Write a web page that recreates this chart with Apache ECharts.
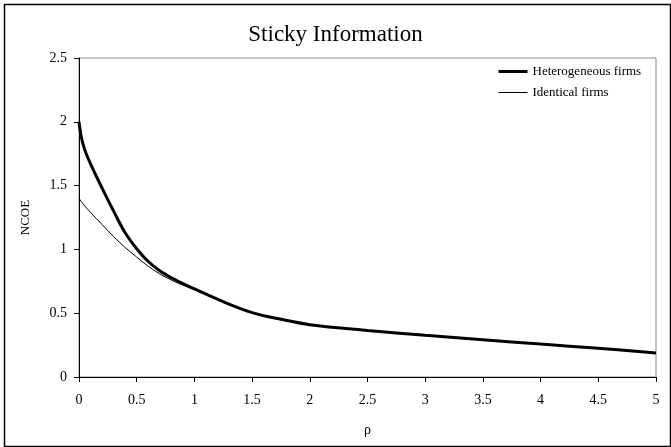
<!DOCTYPE html>
<html>
<head>
<meta charset="utf-8">
<script src="https://cdn.jsdelivr.net/npm/echarts@6/dist/echarts.min.js"></script>
<style>html,body{margin:0;padding:0;background:#fff}#c{width:671px;height:447px}</style>
</head>
<body>
<div id="c"></div>
<script>
// Data
var rhoHet = [0, 0.02, 0.05, 0.1, 0.2, 0.3, 0.4, 0.5, 0.6, 0.7, 0.8, 0.9, 1.0, 1.25, 1.5, 1.75, 2.0, 2.5, 3.0, 3.5, 4.0, 4.5, 5.0];
var hetero = [2.00, 1.88, 1.78, 1.67, 1.48, 1.30, 1.13, 1.005, 0.905, 0.833, 0.778, 0.732, 0.69, 0.59, 0.505, 0.452, 0.41, 0.365, 0.327, 0.292, 0.258, 0.225, 0.188];
var rhoIdent = [0, 0.05, 0.1, 0.2, 0.3, 0.4, 0.5, 0.6, 0.7, 0.8, 0.9, 1.0, 1.25, 1.5, 1.75, 2.0, 2.5, 3.0, 3.5, 4.0, 4.5, 5.0];
var identical = [1.40, 1.34, 1.29, 1.195, 1.10, 1.015, 0.94, 0.868, 0.808, 0.760, 0.720, 0.685, 0.588, 0.503, 0.451, 0.409, 0.364, 0.326, 0.291, 0.257, 0.224, 0.187];
var seriesNames = ['Heterogeneous firms', 'Identical firms'];

function pairs(xs, ys) { return xs.map(function (x, i) { return [x, ys[i]]; }); }

var FONT = "'Liberation Serif','Times New Roman',serif";
var chart = echarts.init(document.getElementById('c'), null, { renderer: 'canvas' });
chart.setOption({
  backgroundColor: '#fff',
  animation: false,
  title: {
    text: 'Sticky Information',
    left: 'center', top: 18,
    textStyle: { fontFamily: FONT, fontSize: 23, fontWeight: 'normal', color: '#000' }
  },
  legend: {
    orient: 'vertical',
    left: 497, top: 65, padding: 0,
    itemWidth: 29, itemHeight: 10, itemGap: 8,
    itemStyle: { opacity: 0 },
    textStyle: { fontFamily: FONT, fontSize: 13, color: '#000' },
    data: [
      { name: seriesNames[0], lineStyle: { width: 3, color: '#000' } },
      { name: seriesNames[1], lineStyle: { width: 1, color: '#000' } }
    ]
  },
  grid: {
    left: 79, right: 15, top: 58, bottom: 70,
    show: true, borderColor: '#888', borderWidth: 1, backgroundColor: '#fff'
  },
  xAxis: {
    type: 'value', min: 0, max: 5, interval: 0.5,
    name: 'ρ', nameLocation: 'middle', nameGap: 46,
    nameTextStyle: { fontFamily: FONT, fontSize: 14, color: '#000' },
    axisLine: { lineStyle: { color: '#000', width: 1 } },
    axisTick: { length: 5, lineStyle: { color: '#000' } },
    axisLabel: { fontFamily: FONT, fontSize: 14, color: '#000', margin: 16 },
    splitLine: { show: false }
  },
  yAxis: {
    type: 'value', min: 0, max: 2.5, interval: 0.5,
    name: 'NCOE', nameLocation: 'middle', nameGap: 47,
    nameTextStyle: { fontFamily: FONT, fontSize: 13, color: '#000' },
    axisLine: { show: true, lineStyle: { color: '#000', width: 1 } },
    axisTick: { show: true, length: 5, lineStyle: { color: '#000' } },
    axisLabel: { fontFamily: FONT, fontSize: 14, color: '#000', margin: 12 },
    splitLine: { show: false }
  },
  series: [
    {
      name: seriesNames[0], type: 'line', data: pairs(rhoHet, hetero),
      smooth: 0.35, symbol: 'none',
      lineStyle: { color: '#000', width: 3 }, itemStyle: { color: '#000' }, z: 3
    },
    {
      name: seriesNames[1], type: 'line', data: pairs(rhoIdent, identical),
      smooth: 0.35, symbol: 'none',
      lineStyle: { color: '#000', width: 1 }, itemStyle: { color: '#000' }, z: 2
    }
  ],
  graphic: [{
    type: 'rect', left: 2, top: 2, silent: true,
    shape: { width: 666, height: 442 },
    style: { fill: 'none', stroke: '#000', lineWidth: 1.5 }
  }]
});
</script>
</body>
</html>
